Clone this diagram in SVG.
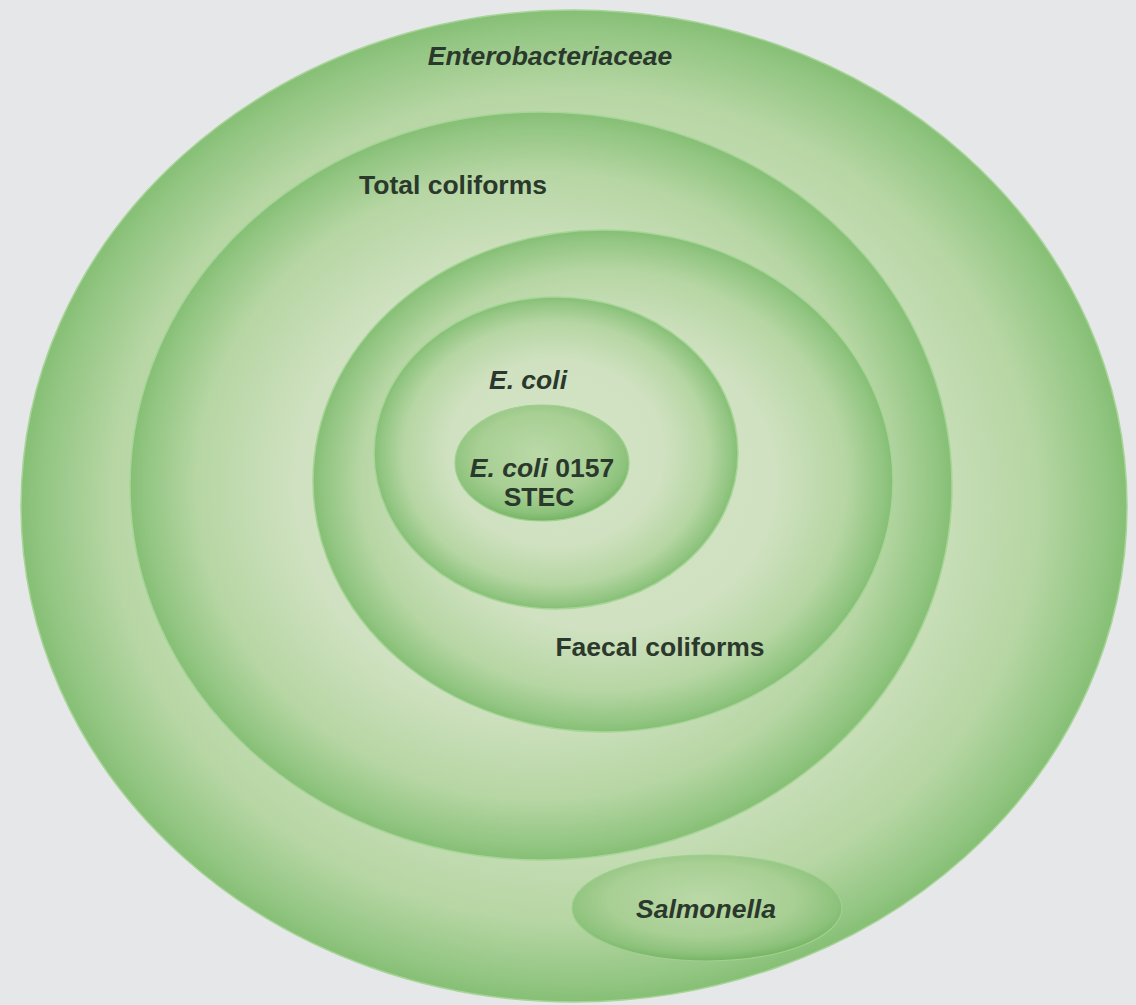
<svg xmlns="http://www.w3.org/2000/svg" width="1136" height="1005" viewBox="0 0 1136 1005">
  <defs>
    <!-- ring shading: light centre fading to a deeper green rim -->
    <radialGradient id="ring" cx="0.5" cy="0.5" r="0.5">
      <stop offset="0" stop-color="#d5e4c7"/>
      <stop offset="0.6" stop-color="#cfe1c0"/>
      <stop offset="0.84" stop-color="#b6d6a3"/>
      <stop offset="0.96" stop-color="#93c683"/>
      <stop offset="1" stop-color="#86bf75"/>
    </radialGradient>
    <radialGradient id="core" cx="0.48" cy="0.42" r="0.58">
      <stop offset="0" stop-color="#bad9a7"/>
      <stop offset="0.6" stop-color="#a8cf94"/>
      <stop offset="0.88" stop-color="#8cc27b"/>
      <stop offset="1" stop-color="#76b464"/>
    </radialGradient>
    <style>
      .set { fill: url(#ring); stroke: #a6d597; stroke-width: 1.5; }
      .inner { fill: url(#core); stroke: #9fd08f; stroke-width: 1.2; }
      .lbl { font-family: "Liberation Sans", Arial, sans-serif; font-weight: bold; font-size: 26.5px; fill: #2b382c; text-anchor: middle; }
      .it { font-style: italic; }
    </style>
  </defs>

  <rect width="1136" height="1005" fill="#e6e7e9"/>

  <g id="enterobacteriaceae">
    <ellipse class="set" cx="574" cy="506" rx="553" ry="496"/>
    <text class="lbl it" x="550" y="65">Enterobacteriaceae</text>
  </g>

  <g id="total-coliforms">
    <ellipse class="set" cx="541" cy="486" rx="411" ry="374"/>
    <text class="lbl" x="453" y="194">Total coliforms</text>
  </g>

  <g id="faecal-coliforms">
    <ellipse class="set" cx="603" cy="481" rx="290" ry="251"/>
    <text class="lbl" x="660" y="656">Faecal coliforms</text>
  </g>

  <g id="e-coli">
    <ellipse class="set" cx="556" cy="453" rx="182" ry="156"/>
    <text class="lbl it" x="528" y="389">E. coli</text>
  </g>

  <g id="e-coli-0157">
    <ellipse class="inner" cx="542" cy="463" rx="87" ry="58"/>
    <text class="lbl" x="542" y="477"><tspan class="it">E. coli</tspan> 0157</text>
    <text class="lbl" x="539" y="506">STEC</text>
  </g>

  <g id="salmonella">
    <ellipse class="inner" cx="707" cy="908" rx="135" ry="53"/>
    <text class="lbl it" x="706" y="918">Salmonella</text>
  </g>

  <g id="connectors"></g>
</svg>
